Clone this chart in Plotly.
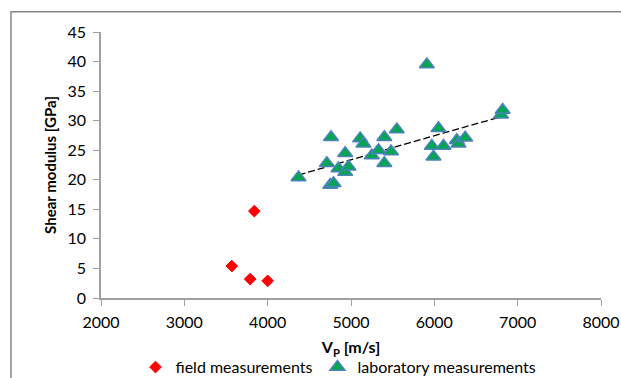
import numpy as np
import plotly.graph_objects as go

field_vp = [3570, 3790, 3840, 4000]
field_g = [5.4, 3.2, 14.7, 2.9]

lab_vp = [4370, 4710, 4760, 4750, 4790, 4850, 4930, 4930, 4970, 5110, 5150, 5250, 5330,
          5400, 5400, 5480, 5550, 5910, 5970, 5990, 6050, 6110, 6270, 6290, 6370, 6800, 6820]
lab_g = [20.4, 22.8, 27.2, 19.1, 19.4, 21.9, 24.5, 21.3, 22.2, 27.0, 26.1, 24.1, 25.0,
         27.2, 22.8, 24.8, 28.5, 39.5, 25.7, 23.9, 28.7, 25.7, 26.7, 26.1, 27.1, 31.0, 31.8]

x_ticks = [2000, 3000, 4000, 5000, 6000, 7000, 8000]
y_ticks = [0, 5, 10, 15, 20, 25, 30, 35, 40, 45]

# power trendline fitted to laboratory data (Excel-style)
lx = np.log(np.array(lab_vp, dtype=float))
ly = np.log(np.array(lab_g, dtype=float))
b, a = np.polyfit(lx, ly, 1)
tx = np.linspace(min(lab_vp), max(lab_vp), 60)
ty = np.exp(a) * tx ** b

FONT = "Lato"
fig = go.Figure()
fig.add_trace(go.Scatter(x=tx, y=ty, mode="lines", showlegend=False,
                         line=dict(color="black", width=1.3, dash="7px,3px"), hoverinfo="skip"))
fig.add_trace(go.Scatter(x=field_vp, y=field_g, mode="markers", name="field measurements",
                         marker=dict(symbol="diamond", size=9, color="#FF0000",
                                     line=dict(color="#FF0000", width=1))))
fig.add_trace(go.Scatter(x=lab_vp, y=lab_g, mode="markers", name="laboratory measurements",
                         marker=dict(symbol="triangle-up", size=13, color="#00A650",
                                     line=dict(color="#4F81BD", width=1.5))))

fig.update_layout(
    width=621, height=378,
    margin=dict(l=101, r=20, t=32, b=80, autoexpand=False),
    paper_bgcolor="white", plot_bgcolor="white",
    font=dict(family=FONT, size=16, color="#000000"),
    legend=dict(orientation="h", x=0.475, xanchor="center", y=-0.26, yanchor="middle",
                font=dict(size=16), itemwidth=30, bgcolor="rgba(0,0,0,0)",
                tracegroupgap=0),
    xaxis=dict(range=[2000, 8000], tickvals=x_ticks, ticks="outside", ticklen=6,
               tickcolor="#A0A0A0", showline=True, linecolor="#A0A0A0", linewidth=1.5,
               showgrid=False, zeroline=False, automargin=False, ticklabelstandoff=3,
               title=dict(text="<b>V<sub>P</sub> [m/s]</b>", font=dict(size=16), standoff=12)),
    yaxis=dict(range=[0, 45], tickvals=y_ticks, ticks="outside", ticklen=6,
               tickcolor="#A0A0A0", showline=True, linecolor="#A0A0A0", linewidth=1.5,
               showgrid=False, zeroline=False, automargin=False, ticklabelstandoff=4,
               title=dict(text="<b>Shear modulus [GPa]</b>", font=dict(size=15), standoff=7)),
    shapes=[dict(type="rect", xref="paper", yref="paper", x0=-0.18, x1=1.06, y0=-0.32, y1=1.076,
                 line=dict(color="#868686", width=1.5), fillcolor="rgba(0,0,0,0)", layer="below")],
)

fig.write_html("out.html")
